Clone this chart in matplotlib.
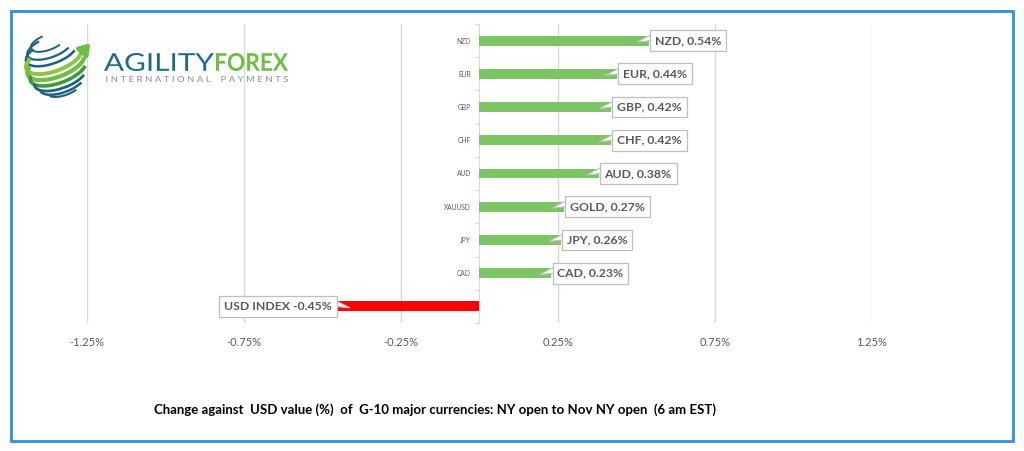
import matplotlib
matplotlib.use("Agg")
import numpy as np
import matplotlib.pyplot as plt
from matplotlib.patches import Rectangle, Arc, FancyArrowPatch, Polygon, PathPatch
from matplotlib.transforms import offset_copy, Affine2D, ScaledTranslation
from matplotlib.textpath import TextPath
from matplotlib.font_manager import FontProperties

# ---- data ----
categories = ["NZD", "EUR", "GBP", "CHF", "AUD", "XAUUSD", "JPY", "CAD", "DXY"]
values = [0.54, 0.44, 0.42, 0.42, 0.38, 0.27, 0.26, 0.23, -0.45]
labels = ["NZD, 0.54%", "EUR, 0.44%", "GBP, 0.42%", "CHF, 0.42%", "AUD, 0.38%",
          "GOLD, 0.27%", "JPY, 0.26%", "CAD, 0.23%", "USD INDEX -0.45%"]
xticks = [-1.25, -0.75, -0.25, 0.25, 0.75, 1.25]
title = "Change against  USD value (%)  of  G-10 major currencies: NY open to Nov NY open  (6 am EST)"

GREEN = "#7CC464"
RED = "#FF0000"
GREY_TXT = "#595959"
GRID = "#D9D9D9"
BOXEDGE = "#BFBFBF"

plt.rcParams['font.family'] = ['Lato', 'DejaVu Sans']

fig = plt.figure(figsize=(10.24, 4.51), dpi=100)
W, H = 1024, 451

# outer blue frame
fig.patches.append(Rectangle((11 / W, 1 - 440.5 / H), (1012.5 - 11) / W, (440.5 - 11) / H,
                             transform=fig.transFigure, fill=False, ec="#2F8FE3", lw=2))

ax = fig.add_axes([86.7 / W, 1 - 323 / H, (871.7 - 86.7) / W, (323 - 24) / H])
ypos = list(range(len(categories)))
colors = [GREEN if v >= 0 else RED for v in values]
ax.barh(ypos, values, height=0.3, color=colors, zorder=2)
ax.set_xlim(-1.25, 1.25)
ax.set_ylim(len(categories) - 0.5, -0.5)

ax.spines['left'].set_position(('data', 0))
ax.spines['left'].set_color(GRID)
ax.spines['left'].set_zorder(1)
for s in ['top', 'right', 'bottom']:
    ax.spines[s].set_visible(False)

ax.set_xticks(xticks)
ax.set_xticklabels([f"{t:.2f}%" for t in xticks])
ax.tick_params(axis='x', length=0, pad=10, labelsize=8, labelcolor=GREY_TXT)
ax.grid(axis='x', color=GRID, lw=1, zorder=0)

ax.set_yticks(ypos)
ax.set_yticklabels(categories)
ax.tick_params(axis='y', which='major', length=0, pad=6, labelsize=4.8, labelcolor=GREY_TXT)
ax.set_yticks([p + 0.5 for p in ypos[:-1]] + [-0.5, len(categories) - 0.5], minor=True)
ax.tick_params(axis='y', which='minor', length=3, color=GRID, width=1)
for lab in ax.get_yticklabels():
    lab.set_zorder(5)
ax.set_axisbelow(True)

# data labels with callouts
for i, (v, lab) in enumerate(zip(values, labels)):
    sign = 1 if v >= 0 else -1
    txt = offset_copy(ax.transData, fig=fig, x=6 * sign, y=0, units='dots')
    ax.annotate(lab, xy=(v, i), xycoords=txt,
                ha='left' if sign > 0 else 'right', va='center',
                fontsize=8.8, fontweight='bold', color=GREY_TXT,
                bbox=dict(boxstyle='square,pad=0.4', fc='white', ec=BOXEDGE, lw=0.9),
                zorder=6, annotation_clip=False)
    # callout wedge (pixel offsets around the bar end)
    tr = Affine2D().scale(sign, 1) + ScaledTranslation(v, i, ax.transData)
    wedge = [(-12, -1.5), (2.5, 6), (2.5, 0)]
    ax.add_patch(Polygon(wedge, closed=True, fc='white', ec=BOXEDGE, lw=0.8,
                         transform=tr, zorder=5, clip_on=False))
    ax.add_patch(Polygon([(2.2, 6.5), (2.2, -0.5), (4, -0.5), (4, 6.5)], closed=True,
                         fc='white', ec='none', transform=tr, zorder=5.5, clip_on=False))

# bottom caption
fig.text(435 / W, 1 - 410 / H, title, ha='center', va='center', fontsize=9.5,
         fontweight='bold', color='black')

# ---- logo ----
def logo_text(s, x0, x1, ytop, ybot, color, weight):
    tp = TextPath((0, 0), s, size=100, prop=FontProperties(family='Lato', weight=weight))
    bb = tp.get_extents()
    sx = (x1 - x0) / bb.width
    sy = (ybot - ytop) / bb.height
    tr = Affine2D().translate(-bb.x0, -bb.y0).scale(sx, sy).translate(x0, H - ybot)
    fig.patches.append(PathPatch(tp, fc=color, ec='none', transform=tr))

logo_text("AGILITY", 104, 214, 53, 71, "#1F6A8A", 'normal')
logo_text("FOREX", 216, 288, 53, 71, "#6CBE45", 'bold')
logo_text("I N T E R N A T I O N A L    P A Y M E N T S", 106.5, 288, 76, 82, "#8C8C8C", 'normal')

lax = fig.add_axes([20 / W, 1 - 98 / H, 76 / W, 68 / H])
lax.set_xlim(0, 76)
lax.set_ylim(0, 68)
lax.set_aspect('equal')
lax.axis('off')
cx, cy, R = 36, 33, 30
rot = np.deg2rad(20)
blue = "#1F5F7F"
lines = [  # latitude (sin), colour, lw, theta1, theta2
    (0.80, blue, 1.4, 110, 330),
    (0.62, blue, 1.6, 130, 340),
    (0.45, blue, 1.8, 150, 345),
    (0.22, "#8CC63F", 2.8, 160, 355),
    (0.02, "#6CBE45", 3.0, 165, 355),
    (-0.20, "#3F9A3A", 2.6, 170, 350),
    (-0.42, blue, 2.0, 175, 345),
    (-0.62, blue, 1.8, 180, 340),
    (-0.80, blue, 1.5, 190, 330),
]
for lat, col, lw, t1, t2 in lines:
    oy = R * lat
    px = cx - oy * np.sin(rot)
    py = cy + oy * np.cos(rot)
    w = 2 * R * np.sqrt(1 - lat ** 2)
    lax.add_patch(Arc((px, py), w, w * 0.42, angle=20, theta1=t1, theta2=t2,
                      color=col, lw=lw))
lax.add_patch(FancyArrowPatch((60, 43), (72, 57), arrowstyle='-|>,head_width=4,head_length=6',
                              color="#6CBE45", lw=3))

fig.savefig("out.png", dpi=100)
